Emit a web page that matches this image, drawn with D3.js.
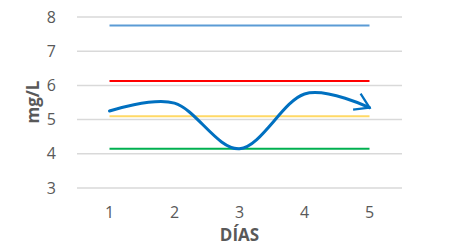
<!DOCTYPE html>
<html>
<head>
<meta charset="utf-8">
<script src="https://cdn.jsdelivr.net/npm/d3@7"></script>
<style>
  body { margin: 0; background: #fff; }
  text { font-family: "Open Sans", "Liberation Sans", sans-serif; }
</style>
</head>
<body>
<div id="chart"></div>
<script>
// days on the x axis
const dias = [1, 2, 3, 4, 5];
// measured value (smoothed curve with arrow)
const medicion = [5.25, 5.48, 4.15, 5.75, 5.35];
// reference levels
const limiteAzul = [7.75, 7.75, 7.75, 7.75, 7.75];
const limiteRojo = [6.13, 6.13, 6.13, 6.13, 6.13];
const limiteAmarillo = [5.1, 5.1, 5.1, 5.1, 5.1];
const limiteVerde = [4.15, 4.15, 4.15, 4.15, 4.15];
const yTicks = [3, 4, 5, 6, 7, 8];

const W = 468, H = 245;
const margin = { top: 17, right: 66, bottom: 57, left: 77 };
const width = W - margin.left - margin.right;
const height = H - margin.top - margin.bottom;

const svg = d3.select('#chart')
  .append('svg')
  .attr('width', W)
  .attr('height', H);

const g = svg.append('g')
  .attr('transform', `translate(${margin.left}, ${margin.top})`);

const x = d3.scaleBand()
  .domain(dias)
  .range([0, width]);

const y = d3.scaleLinear()
  .domain([3, 8])
  .range([height, 0]);

const cx = d => x(d) + x.bandwidth() / 2;

// gridlines
g.selectAll('.grid')
  .data(yTicks)
  .enter().append('line')
  .attr('x1', 0)
  .attr('x2', width)
  .attr('y1', d => y(d))
  .attr('y2', d => y(d))
  .attr('stroke', '#d9d9d9')
  .attr('stroke-width', 1.5);

// y axis labels
const yAxis = g.append('g')
  .call(d3.axisLeft(y).tickValues(yTicks).tickSize(0).tickPadding(21).tickFormat(d3.format('d')));
yAxis.select('.domain').remove();
yAxis.selectAll('text')
  .attr('fill', '#595959')
  .style('font-size', '16px');

// x axis labels
const xAxis = g.append('g')
  .attr('transform', `translate(0, ${height})`)
  .call(d3.axisBottom(x).tickSize(0).tickPadding(19));
xAxis.select('.domain').remove();
xAxis.selectAll('text')
  .attr('fill', '#595959')
  .style('font-size', '16px');

// axis titles
svg.append('text')
  .attr('x', margin.left + width / 2)
  .attr('y', 241)
  .attr('text-anchor', 'middle')
  .attr('fill', '#595959')
  .style('font-size', '17px')
  .style('font-weight', 'bold')
  .text('DÍAS');

svg.append('text')
  .attr('transform', `translate(39, ${margin.top + 85}) rotate(-90)`)
  .attr('text-anchor', 'middle')
  .attr('fill', '#595959')
  .style('font-size', '17px')
  .style('font-weight', 'bold')
  .text('mg/L');

// flat reference lines
const flat = d3.line()
  .x((d, i) => cx(dias[i]))
  .y(d => y(d));

const refs = [
  { values: limiteAzul, color: '#5B9BD5' },
  { values: limiteRojo, color: '#FF0000' },
  { values: limiteAmarillo, color: '#FFD966' },
  { values: limiteVerde, color: '#00B050' }
];

g.selectAll('.ref')
  .data(refs)
  .enter().append('path')
  .attr('d', d => flat(d.values))
  .attr('fill', 'none')
  .attr('stroke', d => d.color)
  .attr('stroke-width', 2);

// arrow head
svg.append('defs').append('marker')
  .attr('id', 'arrow')
  .attr('viewBox', '-10 -6 12 12')
  .attr('refX', 0)
  .attr('refY', 0)
  .attr('markerWidth', 7)
  .attr('markerHeight', 7)
  .attr('orient', 'auto')
  .append('path')
  .attr('d', 'M-8,-5 L0,0 L-8,5')
  .attr('fill', 'none')
  .attr('stroke', '#0070C0')
  .attr('stroke-width', 1.3)
  .attr('stroke-linejoin', 'miter');

// measured curve
const smooth = d3.line()
  .x((d, i) => cx(dias[i]))
  .y(d => y(d))
  .curve(d3.curveCardinal.tension(0));

g.append('path')
  .attr('d', smooth(medicion))
  .attr('fill', 'none')
  .attr('stroke', '#0070C0')
  .attr('stroke-width', 3)
  .attr('stroke-linecap', 'round')
  .attr('marker-end', 'url(#arrow)');
</script>
</body>
</html>
